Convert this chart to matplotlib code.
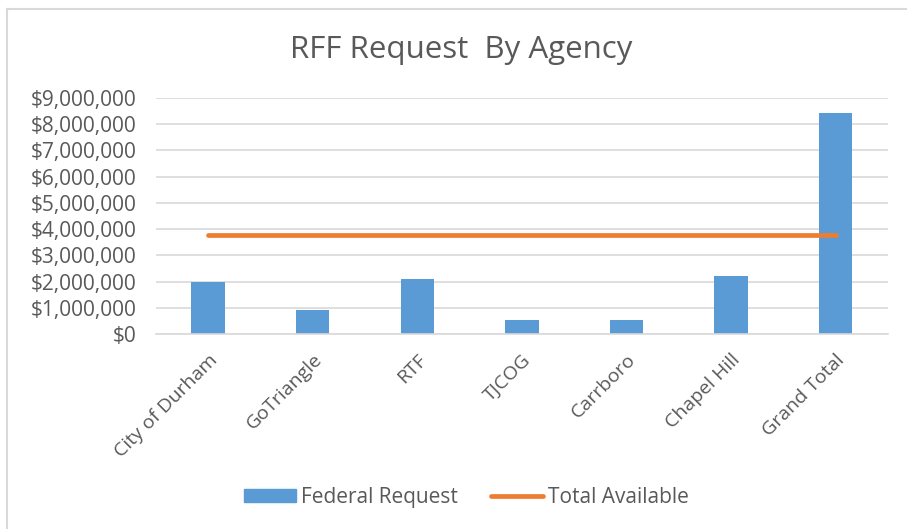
import matplotlib.pyplot as plt
from matplotlib.lines import Line2D
from matplotlib.patches import Patch
from matplotlib.ticker import FuncFormatter

agencies = ['City of Durham', 'GoTriangle', 'RTF', 'TJCOG', 'Carrboro', 'Chapel Hill', 'Grand Total']
federal_request = [2000000, 930000, 2080000, 520000, 520000, 2220000, 8410000]
total_available = [3760000] * 7

plt.rcParams['font.family'] = ['Open Sans', 'DejaVu Sans']
blue = '#5B9BD5'
orange = '#ED7D31'
grey = '#595959'

fig = plt.figure(figsize=(9.07, 5.29), dpi=100)
ax = fig.add_axes([0.1717, 0.3686, 0.8073, 0.4461])

x = range(len(agencies))
ax.bar(x, federal_request, width=0.32, color=blue, zorder=2)
ax.plot(x, total_available, color=orange, linewidth=3.4, solid_capstyle='round', zorder=3)

ax.set_xlim(-0.5, len(agencies) - 0.5)
ax.set_ylim(0, 9000000)
ax.set_yticks(range(0, 9000001, 1000000))
ax.yaxis.set_major_formatter(FuncFormatter(lambda v, p: '${:,.0f}'.format(v)))
ax.grid(axis='y', color='#D9D9D9', linewidth=1.2, zorder=0)
for s in ['top', 'right', 'left']:
    ax.spines[s].set_visible(False)
ax.spines['bottom'].set_color('#D9D9D9')
ax.spines['bottom'].set_linewidth(1.2)
ax.tick_params(length=0, colors=grey, labelsize=15)
ax.tick_params(axis='y', pad=14)
ax.tick_params(axis='x', pad=12)
ax.set_xticks(list(x))
ax.set_xticklabels(agencies, rotation=45, ha='right', rotation_mode='anchor', fontsize=14)

fig.text(0.509, 0.905, 'RFF Request  By Agency', ha='center', va='center', fontsize=22.5, color=grey)

handles = [Patch(color=blue, label='Federal Request'),
           Line2D([0], [0], color=orange, linewidth=3.4, solid_capstyle='round', label='Total Available')]
fig.legend(handles=handles, loc='center', bbox_to_anchor=(0.514, 0.060), ncol=2, frameon=False,
           fontsize=15, labelcolor=grey, handlelength=2.5, handleheight=0.55,
           handletextpad=0.24, columnspacing=1.6)

# chart border (only top and left visible in the picture)
fig.add_artist(Line2D([0.0077, 1.0], [0.983, 0.983], color='#D9D9D9', linewidth=1.5, transform=fig.transFigure))
fig.add_artist(Line2D([0.0077, 0.0077], [0.0, 0.983], color='#D9D9D9', linewidth=1.5, transform=fig.transFigure))

fig.savefig('out.png', dpi=100)
